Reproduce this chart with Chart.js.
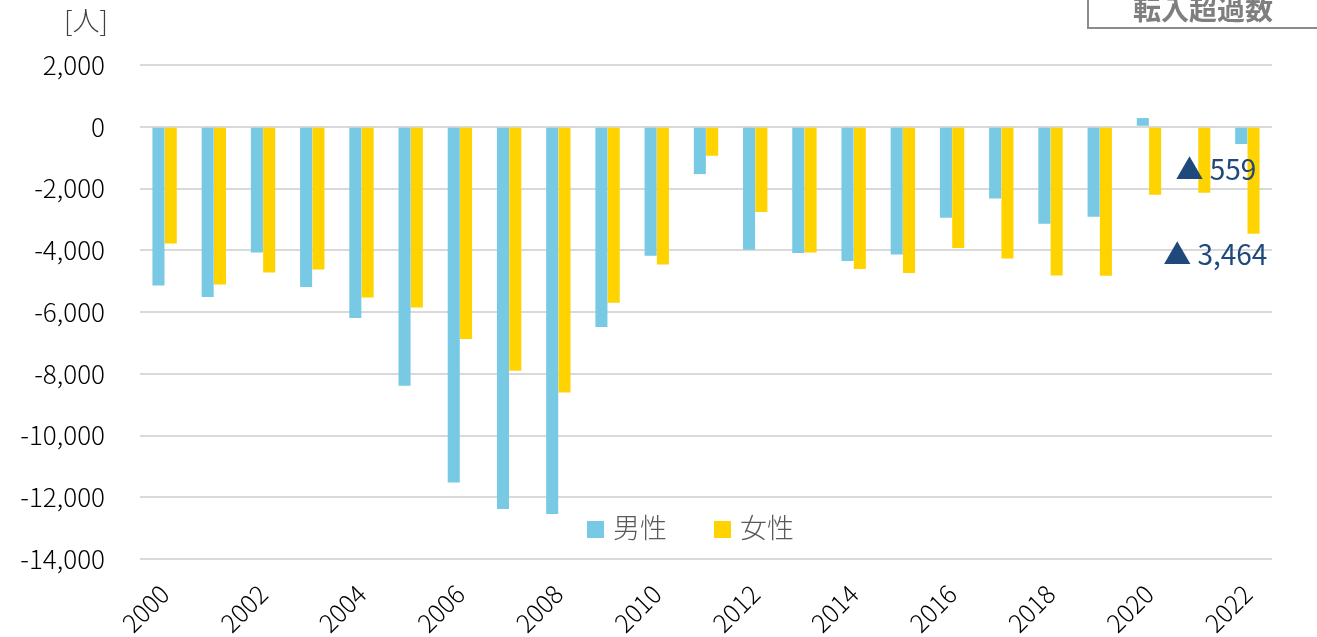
<!DOCTYPE html>
<html lang="ja">
<head>
<meta charset="UTF-8">
<title>転入超過数</title>
<script src="https://cdn.jsdelivr.net/npm/chart.js"></script>
<style>
  html, body { margin: 0; padding: 0; background: #fff; overflow: hidden; }
  #wrap { position: relative; width: 1317px; height: 637px; }
  #box {
    position: absolute; left: 1087px; top: -16px; width: 240px; height: 45px;
    border: 2px solid #8c8c8c; box-sizing: border-box;
    font-family: 'Noto Sans CJK JP', sans-serif; font-weight: bold; font-size: 28px;
    color: #7f7f7f; text-align: left; padding-left: 44px; line-height: 44px;
  }
  #unit {
    position: absolute; left: 64px; top: 0px;
    font-family: 'Noto Sans CJK JP', sans-serif; font-weight: 300; font-size: 27px; color: #404040;
  }
</style>
</head>
<body>
<div id="wrap">
  <canvas id="chartCanvas" width="1317" height="637"></canvas>
  <div id="box">転入超過数</div>
  <div id="unit">[人]</div>
</div>
<script>
const years = ['2000','2001','2002','2003','2004','2005','2006','2007','2008','2009','2010','2011',
               '2012','2013','2014','2015','2016','2017','2018','2019','2020','2021','2022'];
const male = [-5140, -5517, -4070, -5193, -6197, -8390, -11520, -12383, -12545, -6488, -4178, -1533,
              -3984, -4092, -4351, -4135, -2947, -2321, -3142, -2915, 280, 0, -559];
const female = [-3780, -5107, -4718, -4621, -5528, -5852, -6878, -7903, -8605, -5700, -4459, -940,
                -2764, -4070, -4610, -4739, -3930, -4265, -4815, -4826, -2202, -2138, -3464];
const seriesNames = ['男性', '女性'];
const seriesColors = ['#78C9E3', '#FFD300'];
// callouts for the last year: [label, value position on y axis, right edge offset]
const callouts = [['▲ 559', -1393, 9], ['▲ 3,464', -4146, 20]];

const FONT = "'Noto Sans CJK JP', sans-serif";

// legend drawn inside the plot area, and the two callouts
const extras = {
  id: 'extras',
  afterDraw(chart) {
    const ctx = chart.ctx;
    const x = chart.scales.x, y = chart.scales.y;
    ctx.save();
    // legend
    ctx.font = '300 27px ' + FONT;
    ctx.textBaseline = 'middle';
    ctx.textAlign = 'left';
    let lx = 587;
    const ly = 528;
    seriesNames.forEach((name, i) => {
      ctx.fillStyle = seriesColors[i];
      ctx.fillRect(lx, ly - 7, 17, 17);
      ctx.fillStyle = '#595959';
      ctx.fillText(name, lx + 26, ly);
      lx += 127;
    });
    // callouts
    ctx.fillStyle = '#1F497D';
    ctx.textAlign = 'right';
    ctx.font = '28px ' + FONT;
    const last = x.getPixelForValue(years.length - 1);
    callouts.forEach(c => {
      ctx.fillText(c[0], last + c[2], y.getPixelForValue(c[1]));
    });
    ctx.restore();
  }
};

new Chart(document.getElementById('chartCanvas'), {
  type: 'bar',
  data: {
    labels: years,
    datasets: [
      { label: seriesNames[0], data: male, backgroundColor: seriesColors[0] },
      { label: seriesNames[1], data: female, backgroundColor: seriesColors[1] }
    ]
  },
  options: {
    responsive: false,
    animation: false,
    layout: { padding: { top: 65, right: 45, left: 0, bottom: 0 } },
    datasets: { bar: { categoryPercentage: 0.5, barPercentage: 0.98 } },
    plugins: { legend: { display: false }, tooltip: { enabled: false } },
    scales: {
      x: {
        grid: { display: false, drawTicks: false },
        border: { display: false },
        afterFit(s) { s.height = 78; },
        ticks: {
          autoSkip: false,
          minRotation: 45, maxRotation: 45,
          padding: 20,
          color: '#000',
          font: { family: FONT, size: 25, weight: '300' },
          callback(v, i) { return i % 2 === 0 ? years[i] : ''; }
        }
      },
      y: {
        min: -14000, max: 2000,
        grid: { color: '#D9D9D9', lineWidth: 2, drawTicks: false },
        border: { display: false },
        afterFit(s) { s.width = 140; },
        ticks: {
          stepSize: 2000,
          padding: 35,
          color: '#000',
          font: { family: FONT, size: 26, weight: '300' },
          callback(v) { return v.toLocaleString('en-US'); }
        }
      }
    }
  },
  plugins: [extras]
});
</script>
</body>
</html>
